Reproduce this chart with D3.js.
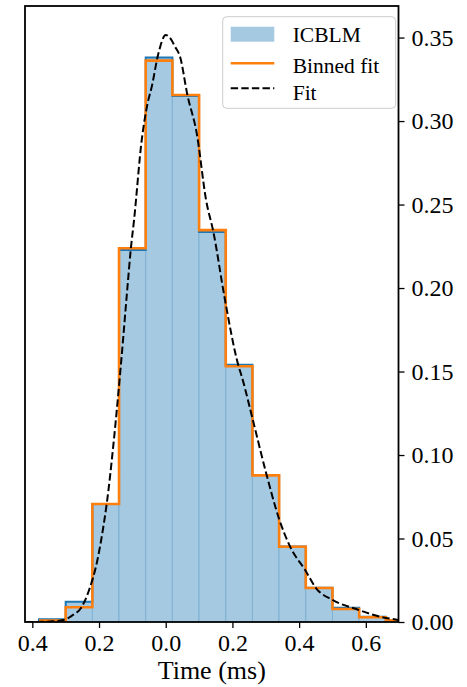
<!DOCTYPE html>
<html>
<head>
<meta charset="utf-8">
<script src="https://cdn.jsdelivr.net/npm/d3@7"></script>
<style>
  html, body { margin: 0; padding: 0; background: #fff; }
  svg { display: block; }
</style>
</head>
<body>
<svg id="chart" width="467" height="687"></svg>
<script>
// Histogram bin edges (ms)
const binEdges = [-0.38, -0.30, -0.22, -0.14, -0.06, 0.02, 0.10, 0.18, 0.26, 0.34, 0.42, 0.50, 0.58, 0.66, 0.74];
// Measured ICBLM normalised counts per bin
const icblmValues = [0.0016, 0.0122, 0.0707, 0.2228, 0.3380, 0.3150, 0.2335, 0.1540, 0.0880, 0.0452, 0.0205, 0.0085, 0.0032, 0.0012];
// Fit integrated over each bin
const binnedFitValues = [0.0008, 0.0088, 0.0707, 0.2238, 0.3362, 0.3156, 0.2347, 0.1532, 0.0878, 0.0451, 0.0204, 0.0078, 0.0028, 0.0010];
// Continuous fit curve samples
const fitX = [-0.42, -0.40, -0.37, -0.34, -0.307, -0.28, -0.252, -0.23, -0.205, -0.184, -0.177, -0.155, -0.134, -0.115, -0.105, -0.095, -0.072, -0.055, -0.042, -0.022, 0.0, 0.014, 0.028, 0.043, 0.065, 0.093, 0.121, 0.143, 0.176, 0.218, 0.228, 0.26, 0.30, 0.341, 0.373, 0.418, 0.451, 0.50, 0.573, 0.643, 0.698];
const fitY = [0.0, 0.0, 0.0001, 0.0004, 0.0012, 0.004, 0.009, 0.019, 0.037, 0.061, 0.0707, 0.110, 0.155, 0.200, 0.2228, 0.2407, 0.2886, 0.310, 0.3205, 0.3405, 0.3515, 0.3495, 0.3445, 0.3385, 0.3156, 0.2926, 0.2527, 0.2335, 0.1948, 0.1535, 0.147, 0.122, 0.090, 0.0611, 0.0451, 0.0311, 0.0202, 0.0132, 0.0076, 0.0032, 0.0012];
// Axis ticks
const xTickValues = [-0.4, -0.2, 0.0, 0.2, 0.4, 0.6];
const xTickLabels = ["0.4", "0.2", "0.0", "0.2", "0.4", "0.6"];
const yTickValues = [0.00, 0.05, 0.10, 0.15, 0.20, 0.25, 0.30, 0.35];
const legendLabels = ["ICBLM", "Binned fit", "Fit"];

const C_BLUE = "#1f77b4", C_FILL = "#a5c9e1", C_ORANGE = "#ff7f0e";
const SERIF = "'Liberation Serif', 'Times New Roman', Times, 'DejaVu Serif', serif";

const svg = d3.select("#chart");
const L = 25, R = 398.5, T = 6, B = 622;
const x = d3.scaleLinear().domain([-0.422, 0.698]).range([L, R]);
const y = d3.scaleLinear().domain([0, 0.3689]).range([B, T]);

svg.append("defs").append("clipPath").attr("id", "plotclip")
  .append("rect").attr("x", L).attr("y", T).attr("width", R - L).attr("height", B - T);

const plot = svg.append("g").attr("clip-path", "url(#plotclip)");

const bins = icblmValues.map((v, i) => ({ x0: binEdges[i], x1: binEdges[i + 1], v, f: binnedFitValues[i] }));

// Filled histogram bars
plot.selectAll("rect.bar").data(bins).join("rect")
  .attr("class", "bar")
  .attr("x", d => x(d.x0))
  .attr("width", d => x(d.x1) - x(d.x0))
  .attr("y", d => y(d.v))
  .attr("height", d => y(0) - y(d.v))
  .attr("fill", C_FILL)
  .attr("stroke", "rgba(31,119,180,0.28)")
  .attr("stroke-width", 1);

function stepPath(key, closeToZero) {
  const p = d3.path();
  bins.forEach((d, i) => {
    if (i === 0) {
      if (closeToZero) { p.moveTo(x(d.x0), y(0)); p.lineTo(x(d.x0), y(d[key])); }
      else p.moveTo(x(d.x0), y(d[key]));
    } else p.lineTo(x(d.x0), y(d[key]));
    p.lineTo(x(d.x1), y(d[key]));
  });
  if (closeToZero) p.lineTo(x(bins[bins.length - 1].x1), y(0));
  return p.toString();
}

// Histogram outline
plot.append("path").attr("d", stepPath("v", true))
  .attr("fill", "none").attr("stroke", C_BLUE).attr("stroke-width", 2);

// Binned fit steps
plot.append("path").attr("d", stepPath("f", false))
  .attr("fill", "none").attr("stroke", C_ORANGE).attr("stroke-width", 2.6)
  .attr("stroke-linejoin", "miter");

// Continuous fit
const fitLine = d3.line().x(d => x(d[0])).y(d => y(d[1])).curve(d3.curveMonotoneX);
plot.append("path").attr("d", fitLine(fitX.map((v, i) => [v, fitY[i]])))
  .attr("fill", "none").attr("stroke", "#000").attr("stroke-width", 2)
  .attr("stroke-dasharray", "7.4,3.2");

// Axes
const xAxis = d3.axisBottom(x).tickValues(xTickValues).tickSize(6).tickPadding(6)
  .tickFormat((d, i) => xTickLabels[i]);
const gx = svg.append("g").attr("transform", `translate(0,${B})`).call(xAxis);
gx.select(".domain").remove();
gx.selectAll(".tick line").attr("stroke", "#000").attr("stroke-width", 1.3);
gx.selectAll(".tick text").style("font-family", SERIF).style("font-size", "24px").attr("fill", "#000");

const yAxis = d3.axisRight(y).tickValues(yTickValues).tickSize(6).tickPadding(7)
  .tickFormat(d3.format(".2f"));
const gy = svg.append("g").attr("transform", `translate(${R},0)`).call(yAxis);
gy.select(".domain").remove();
gy.selectAll(".tick line").attr("stroke", "#000").attr("stroke-width", 1.3);
gy.selectAll(".tick text").style("font-family", SERIF).style("font-size", "24px").attr("fill", "#000");

// Frame
svg.append("rect").attr("x", L).attr("y", T).attr("width", R - L).attr("height", B - T)
  .attr("fill", "none").attr("stroke", "#000").attr("stroke-width", 1.8);

// Axis label
svg.append("text").attr("x", (L + R) / 2).attr("y", 679).attr("text-anchor", "middle")
  .style("font-family", SERIF).style("font-size", "26px").text("Time (ms)");

// Legend
const lg = svg.append("g");
lg.append("rect").attr("x", 222.7).attr("y", 16.7).attr("width", 173).attr("height", 91.6)
  .attr("rx", 4).attr("fill", "rgba(255,255,255,0.8)").attr("stroke", "#cccccc").attr("stroke-width", 1);
lg.append("rect").attr("x", 230.7).attr("y", 26.7).attr("width", 43.6).attr("height", 15)
  .attr("fill", C_FILL);
lg.append("line").attr("x1", 230.7).attr("x2", 274.3).attr("y1", 63.3).attr("y2", 63.3)
  .attr("stroke", C_ORANGE).attr("stroke-width", 2.6);
lg.append("line").attr("x1", 230.7).attr("x2", 274.3).attr("y1", 88.3).attr("y2", 88.3)
  .attr("stroke", "#000").attr("stroke-width", 2).attr("stroke-dasharray", "7.4,3.2");
const legendBaselines = [41.7, 72.5, 100];
legendLabels.forEach((t, i) => {
  lg.append("text").attr("x", 292.7).attr("y", legendBaselines[i])
    .style("font-family", SERIF).style("font-size", "21.5px").text(t);
});
</script>
</body>
</html>
